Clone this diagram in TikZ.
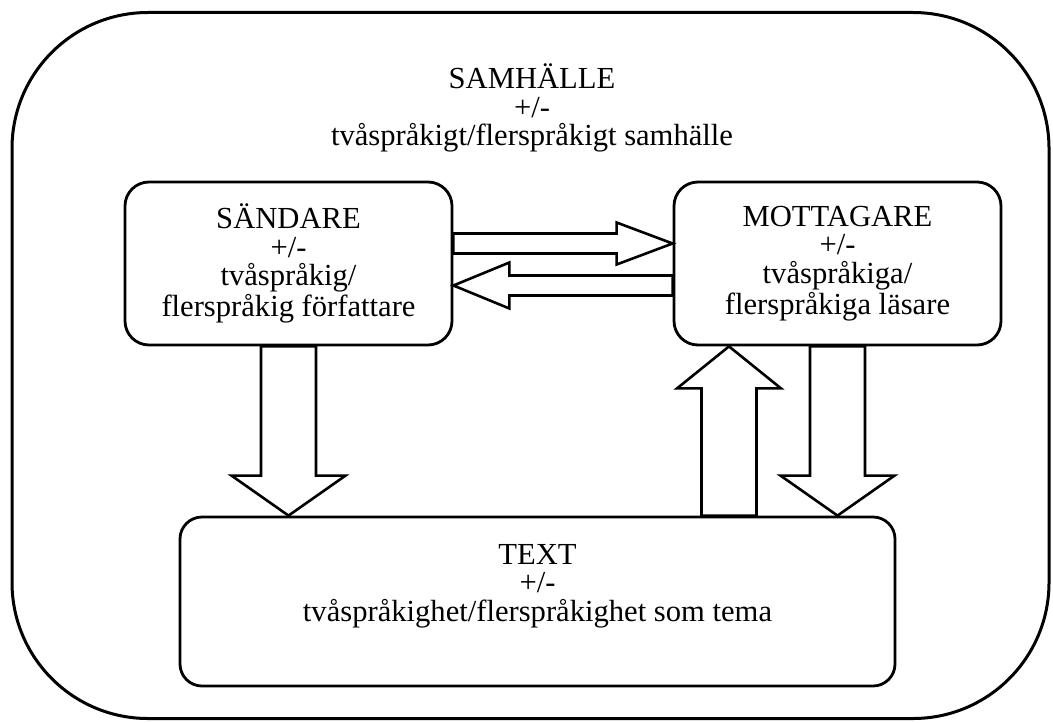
\documentclass[tikz,border=0pt]{standalone}
\usepackage{fontspec}
\setmainfont{Liberation Serif}
\usetikzlibrary{calc,positioning,shapes}
\tikzstyle{box}=[draw,rectangle,line width=1.4pt,rounded corners=12pt,inner sep=0]
\tikzstyle{lbl}=[align=center,font=\fontsize{15.3}{14.3}\selectfont]
\tikzstyle{fat}=[draw,line width=1.3pt,fill=white,line join=miter]

% block arrow: from, to, half shaft, half head, head length
\newcommand{\fatarrow}[5]{%
  \coordinate (fa-a) at (#1);
  \coordinate (fa-b) at (#2);
  \coordinate (fa-h) at ($(fa-b)!#5!(fa-a)$);
  \draw [fat] ($(fa-a)!#3!90:(fa-b)$) -- ($(fa-h)!#3!90:(fa-b)$)
    -- ($(fa-h)!#4!90:(fa-b)$) -- (fa-b)
    -- ($(fa-h)!#4!-90:(fa-b)$) -- ($(fa-h)!#3!-90:(fa-b)$)
    -- ($(fa-a)!#3!-90:(fa-b)$) -- cycle;
}

\begin{document}
\begin{tikzpicture}[x=0.5pt,y=-0.5pt,
    frame/.style={box,rounded corners=68pt,line width=1.5pt},
    party/.style={box,lbl,minimum width=163.5pt,minimum height=81.5pt}
    ]
    \useasboundingbox (0,0) rectangle (1053,722);

    % society
    \node [frame,minimum width=518.5pt,minimum height=353pt] (soc) at (530.5,365.5) {};
    \node [lbl] (socl) at (532,108) {SAMHÄLLE\\+/-\\tvåspråkigt/flerspråkigt samhälle};

    % sender and receiver
    \node [party] (snd) at (288.5,263.5) {SÄNDARE\\+/-\\tvåspråkig/\\flerspråkig författare};
    \node [party] (rcv) at (837.5,263.5) {MOTTAGARE\\+/-\\tvåspråkiga/\\flerspråkiga läsare};

    % text
    \node [box,rounded corners=11pt,minimum width=357.5pt,minimum height=84.5pt] (txt) at (537.5,601.5) {};
    \node [lbl] (txtl) at (537.5,586) {TEXT\\+/-\\tvåspråkighet/flerspråkighet som tema};

    % arrows between the parties
    \fatarrow{[yshift=10pt]snd.east}{[yshift=10pt]rcv.west}{5pt}{10.5pt}{28pt}
    \fatarrow{[yshift=-11pt]rcv.west}{[yshift=-11pt]snd.east}{5pt}{11.5pt}{28pt}

    % arrows to and from the text
    \coordinate (upx) at (729,0);
    \fatarrow{snd.south}{snd.south |- txt.north}{13.75pt}{28.5pt}{20pt}
    \fatarrow{upx |- txt.north}{upx |- rcv.south}{13.75pt}{26pt}{21pt}
    \fatarrow{rcv.south}{rcv.south |- txt.north}{13.75pt}{28.5pt}{20pt}
\end{tikzpicture}
\end{document}
